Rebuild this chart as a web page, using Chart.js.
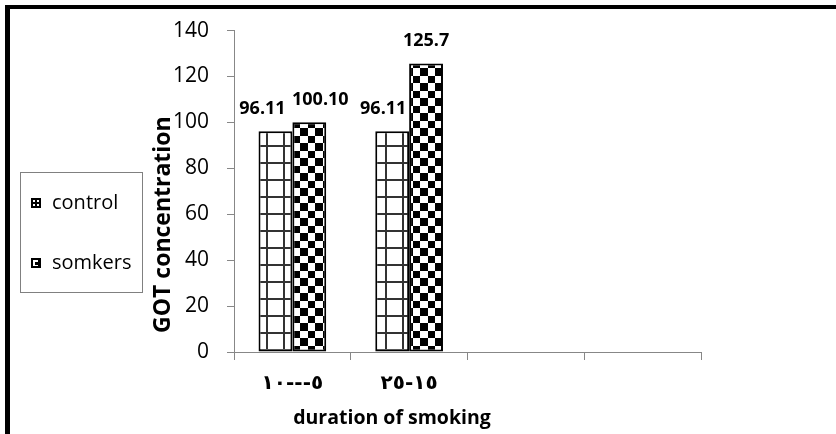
<!DOCTYPE html>
<html><head><meta charset="utf-8">
<script src="https://cdn.jsdelivr.net/npm/chart.js@4"></script>
<style>html,body{margin:0;padding:0;background:#fff}canvas{display:block}</style>
</head><body>
<canvas id="c" width="836" height="434"></canvas>
<script>
const categories = ['٥---١٠', '١٥-٢٥', '', ''];
const seriesNames = ['control', 'somkers'];
const controlValues = [96.11, 96.11, null, null];
const smokerValues = [100.10, 125.7, null, null];
const controlLabels = ['96.11', '96.11'];
const smokerLabels = ['100.10', '125.7'];
const yMin = 0, yMax = 140, yStep = 20;
const xTitle = 'duration of smoking';
const yTitle = 'GOT concentration';

const ctx0 = document.getElementById('c').getContext('2d');
function gridPattern() {
  const c = document.createElement('canvas'); c.width = 17; c.height = 17;
  const g = c.getContext('2d');
  g.fillStyle = '#fff'; g.fillRect(0, 0, 17, 17);
  g.fillStyle = '#333'; g.fillRect(11, 0, 2, 17); g.fillRect(0, 9, 17, 2);
  return ctx0.createPattern(c, 'repeat');
}
function checkerPattern() {
  const c = document.createElement('canvas'); c.width = 15; c.height = 15;
  const g = c.getContext('2d');
  g.fillStyle = '#fff'; g.fillRect(0, 0, 15, 15);
  g.fillStyle = '#000'; g.fillRect(0, 0, 7, 7); g.fillRect(7, 7, 8, 8);
  const p = ctx0.createPattern(c, 'repeat');
  p.setTransform(new DOMMatrix().translate(8, 1));
  return p;
}
const fills = [gridPattern(), checkerPattern()];
const labelShift = [[-13, -9], [11, 0]];

const extras = {
  id: 'extras',
  beforeDraw(chart) {
    const ctx = chart.ctx;
    ctx.save();
    ctx.fillStyle = '#fff'; ctx.fillRect(0, 0, chart.width, chart.height);
    ctx.fillStyle = '#000';
    ctx.fillRect(5, 5, chart.width - 5, 4);
    ctx.fillRect(5, 5, 5, chart.height - 5);
    ctx.restore();
  },
  afterDatasetsDraw(chart) {
    const ctx = chart.ctx;
    ctx.save();
    ctx.font = 'bold 18px "Open Sans"';
    ctx.fillStyle = '#000'; ctx.textAlign = 'center'; ctx.textBaseline = 'alphabetic';
    [controlLabels, smokerLabels].forEach((labels, di) => {
      chart.getDatasetMeta(di).data.forEach((bar, i) => {
        if (labels[i] == null) return;
        ctx.fillText(labels[i], bar.x + labelShift[di][i], bar.y - 17);
      });
    });
    ctx.restore();
  },
  afterDraw(chart) {
    const ctx = chart.ctx, a = chart.chartArea;
    ctx.save();
    ctx.fillStyle = '#000';
    ctx.textAlign = 'center'; ctx.textBaseline = 'middle';
    ctx.font = 'bold 19.5px "Open Sans"';
    ctx.fillText(xTitle, a.left + 158, a.bottom + 66);
    ctx.font = 'bold 23px "Open Sans"';
    ctx.translate(a.left - 71, a.top + 194);
    ctx.rotate(-Math.PI / 2);
    ctx.fillText(yTitle, 0, 0);
    ctx.restore();
    // legend
    ctx.save();
    ctx.strokeStyle = '#808080'; ctx.lineWidth = 1;
    ctx.strokeRect(20.5, 172.5, 122, 120);
    const rows = [203, 263];
    rows.forEach((y, i) => {
      const x = 31, s = 10;
      if (i === 0) {
        ctx.fillStyle = '#fff'; ctx.fillRect(x, y - 5, s, s);
        ctx.strokeStyle = '#000'; ctx.lineWidth = 2;
        ctx.strokeRect(x + 1, y - 4, s - 2, s - 2);
        ctx.beginPath();
        ctx.moveTo(x + s / 2, y - 5); ctx.lineTo(x + s / 2, y + 5);
        ctx.moveTo(x, y); ctx.lineTo(x + s, y);
        ctx.stroke();
      } else {
        ctx.fillStyle = '#000'; ctx.fillRect(x, y - 5, s, s);
        ctx.fillStyle = '#fff'; ctx.fillRect(x + 2, y - 3, 5, 6);
        ctx.fillStyle = '#000'; ctx.fillRect(x + 4, y - 1, 3, 3);
      }
      ctx.fillStyle = '#000';
      ctx.font = '20px "Open Sans"';
      ctx.textAlign = 'left'; ctx.textBaseline = 'middle';
      ctx.fillText(seriesNames[i], 52, y);
    });
    ctx.restore();
  }
};

new Chart(document.getElementById('c'), {
  type: 'bar',
  data: {
    labels: categories,
    datasets: [
      { label: seriesNames[0], data: controlValues, backgroundColor: fills[0], borderColor: '#000', borderWidth: 2, borderSkipped: false },
      { label: seriesNames[1], data: smokerValues, backgroundColor: fills[1], borderColor: '#000', borderWidth: 2, borderSkipped: false }
    ]
  },
  options: {
    responsive: false,
    animation: false,
    devicePixelRatio: 1,
    layout: { padding: { left: 0, right: 135, top: 28, bottom: 0 } },
    datasets: { bar: { categoryPercentage: 0.58, barPercentage: 1 } },
    plugins: { legend: { display: false }, tooltip: { enabled: false } },
    scales: {
      x: {
        offset: true,
        grid: { offset: true, drawOnChartArea: false, drawTicks: true, tickLength: 8, color: '#878787' },
        border: { color: '#878787', width: 1 },
        ticks: { color: '#000', font: { family: 'DejaVu Sans', weight: 'bold', size: 20 }, padding: 12, maxRotation: 0, autoSkip: false },
        afterFit(s) { s.height = 82; }
      },
      y: {
        min: yMin, max: yMax,
        grid: { drawOnChartArea: false, drawTicks: true, tickLength: 7, color: '#878787' },
        border: { color: '#878787', width: 1 },
        ticks: { stepSize: yStep, color: '#000', font: { family: 'Open Sans', size: 21 }, padding: 18 },
        afterFit(s) { s.width = 234; }
      }
    }
  },
  plugins: [extras]
});
</script>
</body></html>
